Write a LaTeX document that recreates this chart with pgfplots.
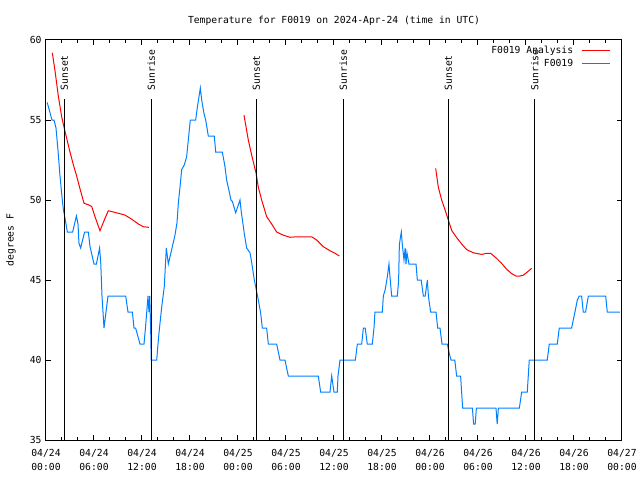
\documentclass[border=0pt]{standalone}
\usepackage{pgfplots}
\pgfplotsset{compat=1.18}
\usepackage{fontspec}
\setmainfont{DejaVu Sans Mono}
\definecolor{gblue}{RGB}{0,128,255}
\newcommand{\gfont}{\fontsize{9.7}{14}\selectfont}
\begin{document}
\begin{tikzpicture}
\begin{axis}[
  name=main,
  scale only axis, width=576pt, height=400pt,
  xmin=0, xmax=72, ymin=35, ymax=60,
  axis line style={line width=1pt},
  every tick/.style={black, line width=1pt},
  major tick length=5pt, minor tick length=3pt,
  xtick={0,6,...,72},
  minor xtick={0,2,...,72},
  ytick={35,40,...,60},
  xticklabels={{04/24\\00:00},{04/24\\06:00},{04/24\\12:00},{04/24\\18:00},{04/25\\00:00},{04/25\\06:00},{04/25\\12:00},{04/25\\18:00},{04/26\\00:00},{04/26\\06:00},{04/26\\12:00},{04/26\\18:00},{04/27\\00:00}},
  xticklabel style={align=center, font=\gfont, yshift=-6pt},
  yticklabel style={font=\gfont, xshift=-1pt},
  /pgf/number format/assume math mode=true,
  title={Temperature for F0019 on 2024-Apr-24 (time in UTC)},
  title style={font=\gfont, at={(axis description cs:0.5,1)}, anchor=center, yshift=13pt},
  ylabel={degrees F},
  ylabel style={font=\gfont, at={(axis description cs:-0.061,0.5)}, anchor=center},
  legend plot pos=right,
  legend cell align=right,
  legend image code/.code={\path (0pt,0pt); \draw[#1] (6pt,0pt) -- (34pt,0pt);},
  legend style={draw=none, fill=none, font=\gfont, at={(axis description cs:0.9815,0.993)}, anchor=north east, row sep=0pt, inner sep=1pt},
]
\addplot[red, line width=1pt] coordinates {
(0.79,59.2) (1.12,58.1) (1.54,56.5) (1.96,55.2) (2.37,54.3) (3.0,53.0) (3.42,52.2) (3.83,51.5) (4.25,50.7) (4.75,49.8) (5.29,49.7) (5.71,49.6) (6.12,48.96) (6.75,48.08) (7.37,48.85) (7.79,49.33) (8.83,49.2) (9.87,49.06) (10.71,48.8) (11.54,48.5) (12.17,48.33) (12.87,48.29)
};
\addlegendentry{F0019 Analysis}
\addplot[gblue, line width=1pt] coordinates {
(0.15,56.1) (0.75,55) (1.0,55) (1.25,54.5) (1.5,53.1) (1.75,51.5) (2.0,50.2) (2.17,49.4) (2.33,49) (2.67,48) (3.33,48) (3.8,49) (4.0,48.5) (4.12,47.3) (4.33,47) (4.83,48) (5.29,48) (5.5,47.1) (6.0,46) (6.3,46) (6.7,47) (6.85,46) (7.0,44) (7.25,42) (7.5,43) (7.75,44) (9.96,44) (10.25,43) (10.8,43) (11.0,42) (11.2,42) (11.75,41) (12.25,41) (12.45,42.1) (12.75,44) (12.87,43) (12.97,44) (13.08,42) (13.15,40) (13.84,40) (14.04,41.25) (14.25,42.3) (14.46,43.3) (14.79,44.6) (14.96,46.25) (15.04,47) (15.29,46) (15.71,46.9) (16.12,47.8) (16.38,48.6) (16.54,49.8) (16.75,50.8) (16.96,51.9) (17.29,52.2) (17.58,52.7) (17.79,53.75) (18.04,55) (18.71,55) (18.92,55.8) (19.17,56.6) (19.29,57) (19.46,56.25) (19.75,55.4) (19.96,55) (20.29,54) (21.04,54) (21.21,53) (22.04,53) (22.37,52.1) (22.58,51.25) (22.87,50.6) (23.12,50) (23.3,49.9) (23.71,49.2) (24.25,50) (24.4,49.3) (24.79,47.9) (25.08,47) (25.5,46.7) (25.71,46.1) (26.04,45) (26.2,44.6) (26.54,43.75) (26.84,42.9) (27.04,42) (27.58,42) (27.79,41) (28.83,41) (29.25,40) (29.87,40) (30.29,39) (34.04,39) (34.33,38) (35.5,38) (35.71,39) (36.0,38) (36.41,38) (36.5,39) (36.75,40) (38.67,40) (38.92,41) (39.46,41) (39.67,42) (39.9,42) (40.16,41) (40.79,41) (41.0,42) (41.12,43) (42.04,43) (42.17,44) (42.4,44.4) (42.67,45.2) (42.87,46) (43.0,45.2) (43.12,44.5) (43.21,44) (43.92,44) (44.08,45) (44.17,47.2) (44.33,47.75) (44.42,48) (44.54,47.2) (44.75,46.25) (44.9,47) (45.0,46) (45.12,46.7) (45.37,46) (46.25,46) (46.42,45) (46.9,45) (47.17,44) (47.4,44) (47.67,45) (47.8,44) (48.08,43) (48.75,43) (48.96,42) (49.25,42) (49.5,41) (50.16,41) (50.42,40.4) (50.62,40) (51.1,40) (51.33,39) (51.83,39) (52.08,37) (53.3,37) (53.45,36) (53.65,36) (53.8,37) (56.25,37) (56.4,36) (56.55,37) (59.17,37) (59.46,38) (60.16,38) (60.41,40) (62.66,40) (62.91,41) (63.91,41) (64.16,42) (65.7,42) (66.12,43) (66.42,43.75) (66.66,44) (66.95,44) (67.16,43) (67.45,43) (67.79,44) (69.96,44) (70.16,43) (71.75,43)
};
\addlegendentry{F0019}
\addplot[red, line width=1pt, forget plot] coordinates {
(24.75,55.3) (25.29,53.75) (25.71,52.8) (26.25,51.7) (26.54,50.8) (26.96,50.0) (27.58,48.96) (28.21,48.5) (28.83,48.0) (29.67,47.8) (30.5,47.67) (31.33,47.7) (33.21,47.7) (33.83,47.5) (34.67,47.08) (35.5,46.83) (36.12,46.67) (36.67,46.5)
};
\addplot[red, line width=1pt, forget plot] coordinates {
(48.71,51.98) (49.04,50.8) (49.46,50.0) (49.87,49.4) (50.29,48.75) (50.71,48.1) (51.33,47.65) (51.96,47.25) (52.58,46.9) (53.42,46.7) (54.46,46.6) (55.08,46.67) (55.58,46.67) (56.33,46.35) (56.96,46.04) (57.58,45.67) (58.21,45.4) (58.75,45.25) (59.25,45.25) (59.67,45.3) (60.17,45.5) (60.71,45.73)
};
\addplot[black, line width=1pt, forget plot] coordinates {(2.29,35) (2.29,56.31)};
\addplot[black, line width=1pt, forget plot] coordinates {(13.16,35) (13.16,56.31)};
\addplot[black, line width=1pt, forget plot] coordinates {(26.29,35) (26.29,56.31)};
\addplot[black, line width=1pt, forget plot] coordinates {(37.16,35) (37.16,56.31)};
\addplot[black, line width=1pt, forget plot] coordinates {(50.29,35) (50.29,56.31)};
\addplot[black, line width=1pt, forget plot] coordinates {(61.09,35) (61.09,56.31)};
\node[rotate=90, anchor=west, inner sep=0pt, font=\gfont, xshift=1.5pt] at (axis cs:2.29,56.75) {Sunset};
\node[rotate=90, anchor=west, inner sep=0pt, font=\gfont, xshift=1.5pt] at (axis cs:13.16,56.75) {Sunrise};
\node[rotate=90, anchor=west, inner sep=0pt, font=\gfont, xshift=1.5pt] at (axis cs:26.29,56.75) {Sunset};
\node[rotate=90, anchor=west, inner sep=0pt, font=\gfont, xshift=1.5pt] at (axis cs:37.16,56.75) {Sunrise};
\node[rotate=90, anchor=west, inner sep=0pt, font=\gfont, xshift=1.5pt] at (axis cs:50.29,56.75) {Sunset};
\node[rotate=90, anchor=west, inner sep=0pt, font=\gfont, xshift=1.5pt] at (axis cs:61.09,56.75) {Sunrise};
\end{axis}
\pgfresetboundingbox
\useasboundingbox (main.south west) ++(-46pt,-40pt) rectangle ++(640pt,480pt);
\end{tikzpicture}
\end{document}
